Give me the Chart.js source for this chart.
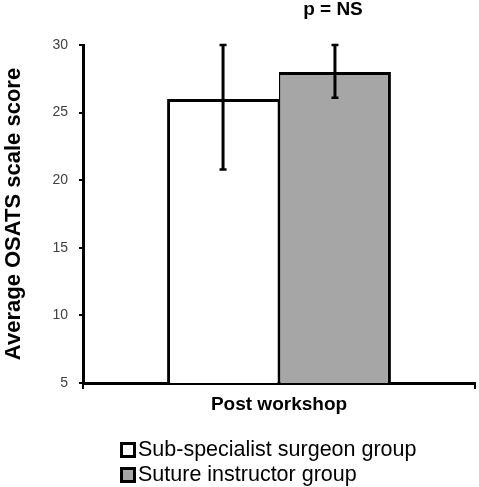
<!DOCTYPE html>
<html>
<head>
<meta charset="utf-8">
<script src="https://cdn.jsdelivr.net/npm/chart.js@4"></script>
<style>
  html, body { margin: 0; padding: 0; background: #fff; }
  #wrap { position: relative; width: 479px; height: 487px; }
  #legend { position: absolute; left: 120px; top: 437px; font-family: "Liberation Sans", Arial, sans-serif; font-size: 21.5px; color: #000; }
  #legend .row { display: flex; align-items: center; height: 25px; white-space: nowrap; }
  #legend .box { width: 10px; height: 10px; border: 3px solid #000; margin-right: 2px; }
</style>
</head>
<body>
<div id="wrap">
  <canvas id="osatsChart" width="479" height="487"></canvas>
  <div id="legend"></div>
</div>
<script type="text/javascript">
// data
var categories = ["Post workshop"];
var groupNames = ["Sub-specialist surgeon group", "Suture instructor group"];
var groupMeans = [26, 28];
var errorLow = [20.8, 26.1];
var errorHigh = [30, 30];
var yTicks = [5, 10, 15, 20, 25, 30];
var pLabel = "p = NS";

var fills = ["#ffffff", "#a6a6a6"];
var font = "'Liberation Sans', Arial, sans-serif";

// error bars + p value label
var errorBars = {
  id: "errorBars",
  afterDatasetsDraw: function (chart) {
    var ctx = chart.ctx;
    var y = chart.scales.y;
    ctx.save();
    ctx.strokeStyle = "#000";
    chart.data.datasets.forEach(function (ds, i) {
      var bar = chart.getDatasetMeta(i).data[0];
      var top = y.getPixelForValue(errorHigh[i]);
      var bot = y.getPixelForValue(errorLow[i]);
      ctx.lineWidth = 3;
      ctx.beginPath();
      ctx.moveTo(bar.x, top);
      ctx.lineTo(bar.x, bot);
      ctx.stroke();
      ctx.lineWidth = 2.5;
      ctx.beginPath();
      ctx.moveTo(bar.x - 3.5, top);
      ctx.lineTo(bar.x + 3.5, top);
      ctx.moveTo(bar.x - 3.5, bot);
      ctx.lineTo(bar.x + 3.5, bot);
      ctx.stroke();
    });
    var last = chart.getDatasetMeta(1).data[0];
    ctx.fillStyle = "#000";
    ctx.font = "bold 19px " + font;
    ctx.textAlign = "center";
    ctx.textBaseline = "middle";
    ctx.fillText(pLabel, last.x - 2, 10);
    ctx.restore();
  }
};

var chart = new Chart("osatsChart", {
  type: "bar",
  data: {
    labels: categories,
    datasets: [
      {
        label: groupNames[0],
        data: [groupMeans[0]],
        backgroundColor: fills[0],
        borderColor: "#000",
        borderWidth: { top: 3, left: 3, right: 1.5, bottom: 0 }
      },
      {
        label: groupNames[1],
        data: [groupMeans[1]],
        backgroundColor: fills[1],
        borderColor: "#000",
        borderWidth: { top: 3, left: 1.5, right: 3, bottom: 0 }
      }
    ]
  },
  options: {
    responsive: false,
    animation: false,
    layout: { padding: { top: 45, right: 4, left: 0, bottom: 0 } },
    datasets: { bar: { categoryPercentage: 0.571, barPercentage: 1 } },
    plugins: {
      legend: { display: false },
      tooltip: { enabled: false }
    },
    scales: {
      x: {
        afterFit: function (scale) { scale.height = 104; },
        border: { display: true, color: "#000", width: 3 },
        grid: { display: true, drawOnChartArea: false, drawTicks: true, tickLength: 6, color: "#000", lineWidth: 2 },
        ticks: { color: "#000", padding: 4, font: { family: font, size: 19, weight: "bold" } }
      },
      y: {
        min: 5,
        max: 30,
        afterFit: function (scale) { scale.width = 83; },
        afterBuildTicks: function (scale) {
          scale.ticks = yTicks.map(function (v) { return { value: v }; });
        },
        border: { display: true, color: "#000", width: 3 },
        grid: { display: true, drawOnChartArea: false, drawTicks: true, tickLength: 4, color: "#000", lineWidth: 2 },
        ticks: { color: "#404040", padding: 11, font: { family: font, size: 14 } },
        title: {
          display: true,
          text: "Average OSATS scale score",
          color: "#000",
          padding: { top: 1, bottom: 0 },
          font: { family: font, size: 22, weight: "bold" }
        }
      }
    }
  },
  plugins: [errorBars]
});

// html legend built from the datasets
var legend = document.getElementById("legend");
chart.data.datasets.forEach(function (ds) {
  var row = document.createElement("div");
  row.className = "row";
  var box = document.createElement("span");
  box.className = "box";
  box.style.background = ds.backgroundColor;
  var txt = document.createElement("span");
  txt.textContent = ds.label;
  row.appendChild(box);
  row.appendChild(txt);
  legend.appendChild(row);
});
</script>
</body>
</html>
